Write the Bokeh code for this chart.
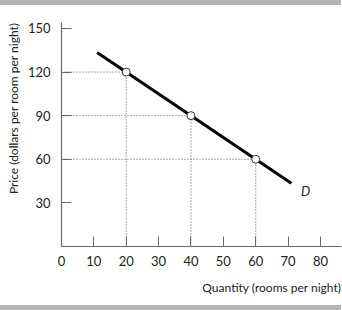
from bokeh.plotting import figure
from bokeh.models import Div, Label, FixedTicker, Range1d, Title
from bokeh.layouts import column
from bokeh.embed import file_html
from bokeh.resources import INLINE

# Data
point_qty = [20, 40, 60]
point_price = [120, 90, 60]
line_qty = [11, 71]
line_price = [133.5, 43.5]
x_ticks = [0, 10, 20, 30, 40, 50, 60, 70, 80]
y_ticks = [30, 60, 90, 120, 150]
x_title = "Quantity (rooms per night)"
y_title = "Price (dollars per room per night)"
curve_label = "D"

FONT = "Lato"
TXT = "#222222"
AX = "#6a6a6a"
FS = "13px"
TFS = "12px"

p = figure(width=342, height=300, x_range=Range1d(0, 86.5), y_range=Range1d(0, 154.1),
           output_backend="svg", toolbar_location=None,
           min_border_left=61, min_border_right=1, min_border_top=17, min_border_bottom=59)
p.grid.visible = False
p.outline_line_color = None
p.background_fill_color = "white"
p.border_fill_color = "white"

for ax, ticks in ((p.xaxis[0], x_ticks), (p.yaxis[0], y_ticks)):
    ax.ticker = FixedTicker(ticks=ticks)
    ax.major_tick_in = 10
    ax.major_tick_out = 0
    ax.minor_tick_line_color = None
    ax.axis_line_color = AX
    ax.major_tick_line_color = AX
    ax.axis_line_width = 1.2
    ax.major_label_text_font = FONT
    ax.major_label_text_font_size = FS
    ax.major_label_text_color = TXT
p.xaxis.major_label_standoff = 9
p.yaxis.major_label_standoff = 11

# dotted guides
p.segment(x0=[0] * len(point_qty), y0=point_price, x1=point_qty, y1=point_price,
          line_color="#555555", line_width=1, line_dash="1 2")
p.segment(x0=point_qty, y0=[0] * len(point_qty), x1=point_qty, y1=point_price,
          line_color="#555555", line_width=1, line_dash="1 2")

# demand curve
p.line(line_qty, line_price, line_color="black", line_width=3)
p.scatter(point_qty, point_price, size=8, fill_color="white", line_color="#333333", line_width=1)

p.add_layout(Label(x=75.4, y=38.5, text=curve_label, text_font=FONT, text_font_size=FS,
                   text_font_style="italic", text_color=TXT, text_align="center",
                   text_baseline="middle"))

p.add_layout(Title(text=x_title, align="right", text_font=FONT, text_font_size=TFS,
                   text_font_style="normal", text_color=TXT, standoff=18), "below")
p.add_layout(Title(text=y_title, align="right", offset=0, text_font=FONT, text_font_size=TFS,
                   text_font_style="normal", text_color=TXT, standoff=7), "left")

top_bar = Div(width=341, height=5, margin=0, styles={"background-color": "#b4b4b4"})
bot_bar = Div(width=341, height=5, margin=0, styles={"background-color": "#b4b4b4"})

layout = column(top_bar, p, bot_bar, spacing=0)
open("out.html", "w").write(file_html(layout, INLINE))
